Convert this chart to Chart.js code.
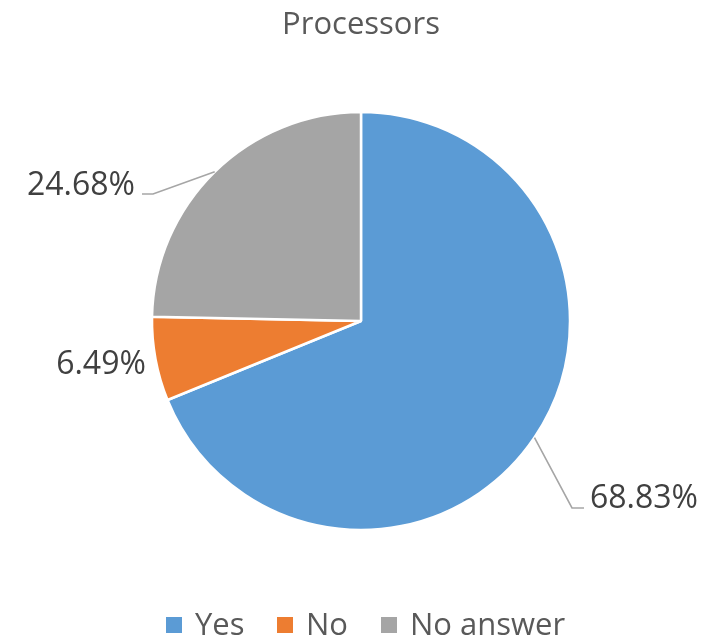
<!DOCTYPE html>
<html><head><meta charset="utf-8">
<script src="https://cdn.jsdelivr.net/npm/chart.js@4/dist/chart.umd.min.js"></script>
<style>html,body{margin:0;padding:0;background:#fff}#wrap{width:715px;height:639px}</style>
</head><body><div id="wrap"><canvas id="c" width="715" height="639"></canvas></div>
<script>
const chartTitle = "Processors";
const categories = ["Yes", "No", "No answer"];
const values = [68.83, 6.49, 24.68];
const valueLabels = ["68.83%", "6.49%", "24.68%"];
const colors = ["#5B9BD5", "#ED7D31", "#A5A5A5"];

const FONT = '"Open Sans", sans-serif';

const overlay = {
  id: 'overlay',
  afterDraw(chart) {
    const ctx = chart.ctx;
    const meta = chart.getDatasetMeta(0);
    ctx.save();
    // title
    ctx.fillStyle = '#595959';
    ctx.font = '31px ' + FONT;
    ctx.textAlign = 'center';
    ctx.textBaseline = 'alphabetic';
    ctx.fillText(chartTitle, 361, 34);

    // data labels
    const arcs = meta.data;
    const cx = arcs[0].x, cy = arcs[0].y;
    const r = arcs[0].outerRadius;
    const place = [
      {elbow:[211,187], end:[223,187], text:[229,187], align:'left'},
      {text:[-260,53], align:'center'},
      {elbow:[-208,-127], end:[-219,-127], text:[-226,-126], align:'right'}
    ];
    ctx.font = '32px ' + FONT;
    arcs.forEach((a, i) => {
      const p = place[i];
      const mid = (a.startAngle + a.endAngle) / 2;
      if (p.elbow) {
        ctx.strokeStyle = '#A6A6A6';
        ctx.lineWidth = 1.6;
        ctx.beginPath();
        ctx.moveTo(cx + Math.cos(mid) * r, cy + Math.sin(mid) * r);
        ctx.lineTo(cx + p.elbow[0], cy + p.elbow[1]);
        ctx.lineTo(cx + p.end[0], cy + p.end[1]);
        ctx.stroke();
      }
      ctx.fillStyle = '#404040';
      ctx.textAlign = p.align;
      ctx.textBaseline = 'alphabetic';
      ctx.fillText(valueLabels[i], cx + p.text[0], cy + p.text[1]);
    });

    // legend
    ctx.font = '31px ' + FONT;
    ctx.textAlign = 'left';
    const boxX = [166, 277, 381];
    categories.forEach((c, i) => {
      ctx.fillStyle = colors[i];
      ctx.fillRect(boxX[i], 617, 16, 16);
      ctx.fillStyle = '#595959';
      ctx.fillText(c, boxX[i] + 29, 635);
    });
    ctx.restore();
  }
};

new Chart(document.getElementById('c'), {
  type: 'pie',
  data: {
    labels: categories,
    datasets: [{
      data: values,
      backgroundColor: colors,
      borderColor: '#ffffff',
      borderWidth: 2.5,
      hoverOffset: 0
    }]
  },
  options: {
    responsive: false,
    animation: false,
    radius: 209,
    layout: { padding: { left: 7, right: 0, top: 70, bottom: 67 } },
    plugins: { legend: { display: false }, title: { display: false }, tooltip: { enabled: false } },
    events: []
  },
  plugins: [overlay]
});
</script>
</body></html>
